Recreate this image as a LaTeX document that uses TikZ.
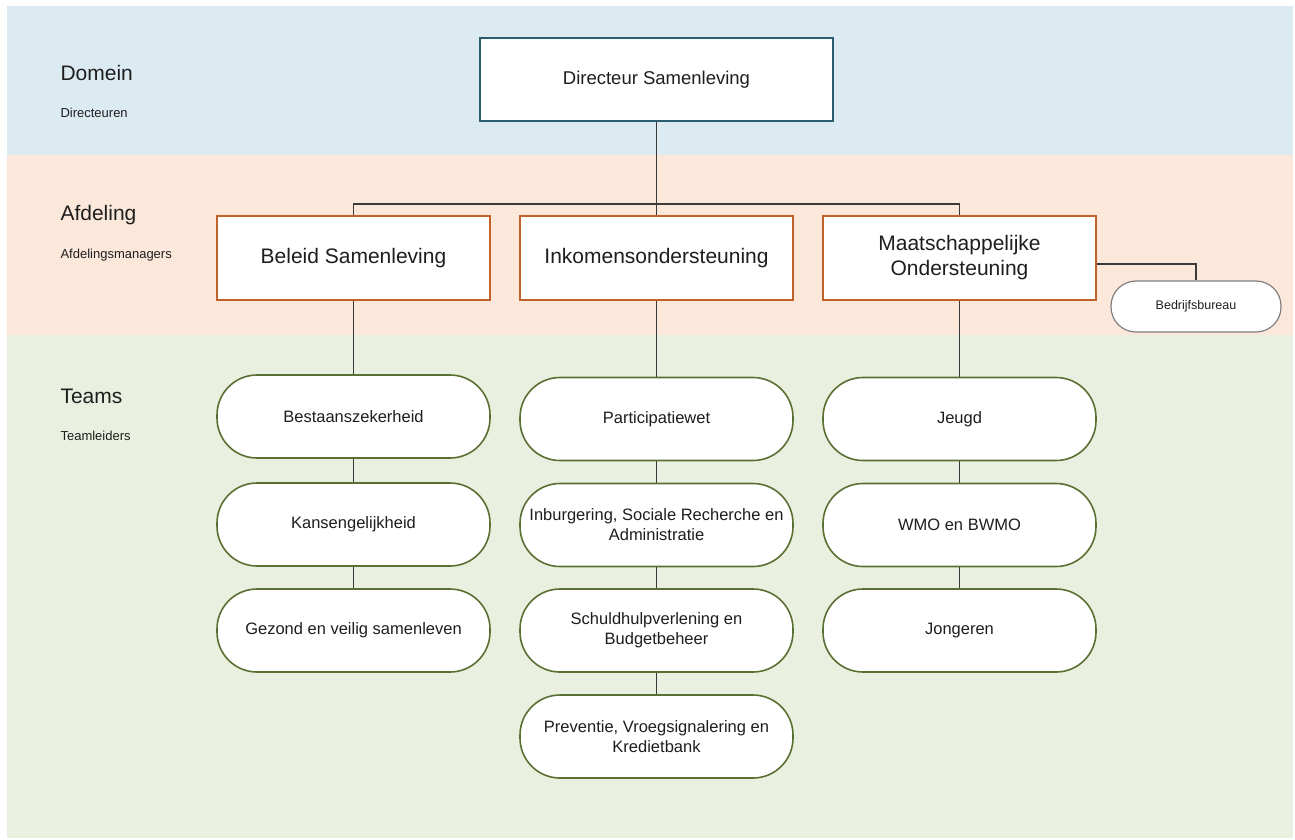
\documentclass[tikz,border=0pt]{standalone}
\usepackage{fontspec}
\setmainfont{Liberation Sans}
\definecolor{bandblue}{HTML}{DCEBF2}
\definecolor{bandpeach}{HTML}{FBE8DB}
\definecolor{bandgreen}{HTML}{E9F0DF}
\definecolor{dirborder}{HTML}{2C5D6C}
\definecolor{afdborder}{HTML}{C0622A}
\definecolor{teamborder}{HTML}{5A7032}
\definecolor{bedborder}{HTML}{7F7F7F}
\definecolor{linecol}{HTML}{3A3A3A}
\definecolor{txt}{HTML}{1E1E1E}
\begin{document}
\begin{tikzpicture}[x=1pt,y=-1pt,
  every node/.style={text=txt},
  dirbox/.style={draw=dirborder,line width=2pt,fill=white,minimum width=353pt,minimum height=83pt,font=\fontsize{18.5}{22}\selectfont,inner sep=0pt},
  afdbox/.style={draw=afdborder,line width=1.6pt,fill=white,minimum width=273pt,minimum height=84pt,font=\fontsize{21}{25}\selectfont,align=center,inner sep=0pt},
  teambox/.style={draw=teamborder,line width=1.6pt,fill=white,minimum width=273pt,minimum height=83pt,rounded corners=40pt,font=\fontsize{16.5}{20}\selectfont,align=center,inner sep=0pt},
  bedbox/.style={draw=bedborder,line width=1.2pt,fill=white,minimum width=170pt,minimum height=51pt,rounded corners=25pt,font=\fontsize{12.5}{15}\selectfont,inner sep=0pt},
  bandtitle/.style={anchor=west,font=\fontsize{21}{24}\selectfont},
  bandsub/.style={anchor=west,font=\fontsize{13}{15}\selectfont},
  conn/.style={draw=linecol,line width=1.2pt}
]
\useasboundingbox (0,0) rectangle (1295,839);
\fill[white] (0,0) rectangle (1295,839);
% bands
\fill[bandblue] (7,6) rectangle (1293,155);
\fill[bandpeach] (7,155) rectangle (1293,335);
\fill[bandgreen] (7,335) rectangle (1293,838);
% band labels
\node[bandtitle] (tdom) at (57,73) {Domein};
\node[bandsub] (sdom) at (57,113) {Directeuren};
\node[bandtitle] (tafd) at (57,215) {Afdeling};
\node[bandsub] (safd) at (57,255) {Afdelingsmanagers};
\node[bandtitle] (tteam) at (57,396) {Teams};
\node[bandsub] (steam) at (57,436) {Teamleiders};
% nodes
\node[dirbox] (dir) at (656.5,79.5) {Directeur Samenleving};
\node[afdbox] (bel) at (353.5,258) {Beleid Samenleving};
\node[afdbox] (ink) at (656.5,258) {Inkomensondersteuning};
\node[afdbox] (maa) at (959.5,258) {Maatschappelijke\\Ondersteuning};
\node[bedbox] (bed) at (1196,306.5) {\raisebox{-1.5pt}{Bedrijfsbureau}};
\coordinate (bus) at (656.5,204);
\node[teambox] (a1) at (353.5,416.5) {Bestaanszekerheid};
\node[teambox] (a2) at (353.5,524.5) {Kansengelijkheid};
\node[teambox] (a3) at (353.5,630.5) {Gezond en veilig samenleven};
\node[teambox] (b1) at (656.5,419) {Participatiewet};
\node[teambox] (b2) at (656.5,525) {Inburgering, Sociale Recherche en\\Administratie};
\node[teambox] (b3) at (656.5,630.5) {Schuldhulpverlening en\\Budgetbeheer};
\node[teambox] (b4) at (656.5,736.5) {Preventie, Vroegsignalering en\\Kredietbank};
\node[teambox] (c1) at (959.5,419) {Jeugd};
\node[teambox] (c2) at (959.5,525) {WMO en BWMO};
\node[teambox] (c3) at (959.5,630.5) {Jongeren};
% connectors
\draw[conn] (dir.south) -- (ink.north);
\draw[conn] (bel.north) |- (bus) -| (maa.north);
\draw[conn] ([yshift=-6pt]maa.east) -| (bed.north);
\draw[conn] (bel.south) -- (a1.north);
\draw[conn] (a1.south) -- (a2.north);
\draw[conn] (a2.south) -- (a3.north);
\draw[conn] (ink.south) -- (b1.north);
\draw[conn] (b1.south) -- (b2.north);
\draw[conn] (b2.south) -- (b3.north);
\draw[conn] (b3.south) -- (b4.north);
\draw[conn] (maa.south) -- (c1.north);
\draw[conn] (c1.south) -- (c2.north);
\draw[conn] (c2.south) -- (c3.north);
\end{tikzpicture}
\end{document}
